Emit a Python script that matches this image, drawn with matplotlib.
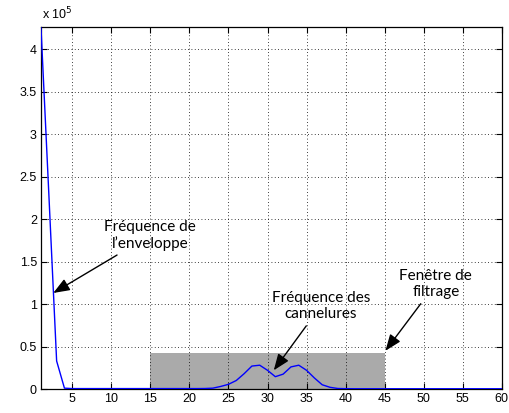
import matplotlib
matplotlib.use("Agg")
import matplotlib.pyplot as plt
from matplotlib.patches import Rectangle
import numpy as np

# Spectrum samples (amplitude in units of 1e5)
freq = np.arange(1, 61)
amp = [4.25, 2.3, 0.33, 0.01, 0.005, 0.005, 0.005, 0.005, 0.005, 0.005,
       0.005, 0.005, 0.005, 0.005, 0.005, 0.005, 0.005, 0.005, 0.005, 0.005,
       0.005, 0.006, 0.01, 0.03, 0.055, 0.10, 0.18, 0.27, 0.28, 0.22,
       0.145, 0.175, 0.26, 0.28, 0.22, 0.13, 0.05, 0.02, 0.006, 0.004,
       0.003, 0.003, 0.003, 0.003, 0.003, 0.003, 0.003, 0.003, 0.003, 0.003,
       0.003, 0.003, 0.003, 0.003, 0.003, 0.003, 0.003, 0.003, 0.003, 0.003]

# Filter window
win_start, win_end, win_height = 15, 45, 0.42

xticks = [5, 10, 15, 20, 25, 30, 35, 40, 45, 50, 55, 60]
yticks = [0, 0.5, 1, 1.5, 2, 2.5, 3, 3.5, 4]
ytick_labels = ["0", "0.5", "1", "1.5", "2", "2.5", "3", "3.5", "4"]

plt.rcParams["font.family"] = ["Liberation Sans", "DejaVu Sans"]

fig = plt.figure(figsize=(5.1, 4.13), dpi=100)
ax = fig.add_axes([0.0804, 0.0581, 0.9036, 0.8765])

ax.add_patch(Rectangle((win_start, 0), win_end - win_start, win_height,
                       facecolor="#aaaaaa", edgecolor="none", zorder=1))
ax.plot(freq, amp, color="#0000ff", lw=1.0, zorder=3)

ax.set_xlim(1, 60)
ax.set_ylim(0, 4.26)
ax.set_xticks(xticks)
ax.set_yticks(yticks)
ax.set_yticklabels(ytick_labels)
ax.tick_params(direction="in", top=True, right=True, labelsize=9, length=4,
               width=0.8, pad=3)
ax.grid(True, color="black", linestyle=(0, (1, 3)), linewidth=0.6, zorder=2)
ax.set_axisbelow(False)
for s in ax.spines.values():
    s.set_linewidth(0.9)

# exponent label above the y axis
fig.text(0.082, 0.953, r"x 10$^5$", fontsize=9, va="baseline")

note = dict(fontsize=11, family=["Lato", "DejaVu Sans"], ha="center",
            va="center", linespacing=1.2)
arrow = dict(arrowstyle="-|>,head_length=0.9,head_width=0.35", color="black",
             lw=1.0, shrinkA=2, shrinkB=0)
ax.annotate("Fréquence de\nl\u2019enveloppe", xy=(2.57, 1.13), xytext=(15.0, 1.81),
            arrowprops=arrow, **note)
ax.annotate("Fréquence des\ncannelures", xy=(30.8, 0.22), xytext=(36.85, 0.98),
            arrowprops=arrow, **note)
ax.annotate("Fenêtre de\nfiltrage", xy=(45.1, 0.45), xytext=(51.55, 1.24),
            arrowprops=arrow, **note)

fig.savefig("out.png", dpi=100)
